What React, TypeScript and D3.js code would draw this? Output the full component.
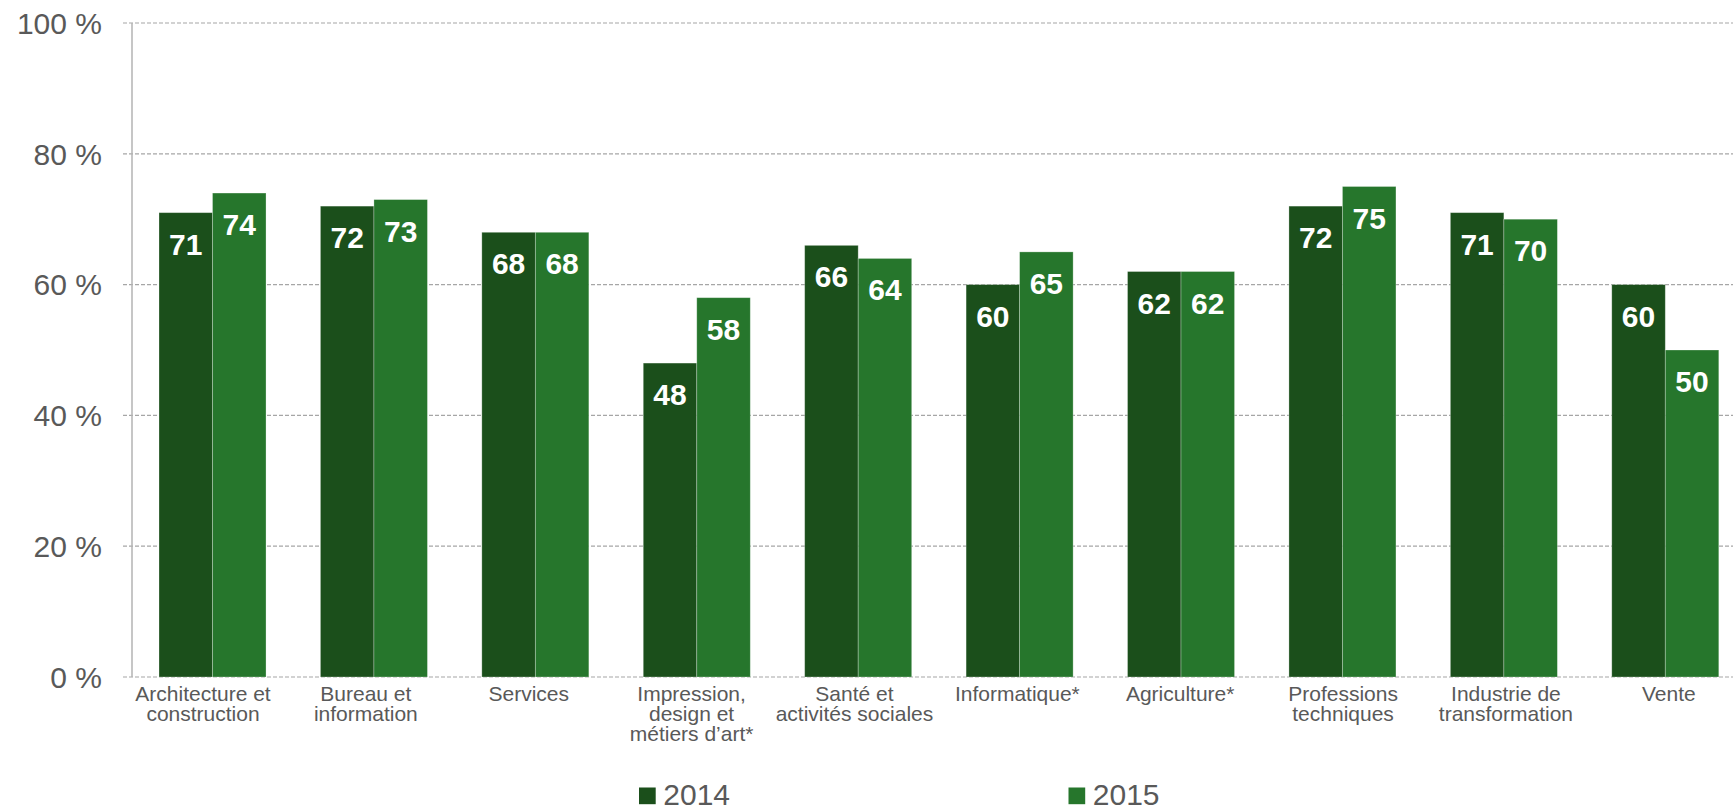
import React from "react";
import * as d3 from "d3";

const categories: string[][] = [
  ["Architecture et", "construction"],
  ["Bureau et", "information"],
  ["Services"],
  ["Impression,", "design et", "métiers d’art*"],
  ["Santé et", "activités sociales"],
  ["Informatique*"],
  ["Agriculture*"],
  ["Professions", "techniques"],
  ["Industrie de", "transformation"],
  ["Vente"],
];
const values2014 = [71, 72, 68, 48, 66, 60, 62, 72, 71, 60];
const values2015 = [74, 73, 68, 58, 64, 65, 62, 75, 70, 50];
const seriesNames = ["2014", "2015"];
const yTicks = [0, 20, 40, 60, 80, 100];

const W = 1733;
const H = 811;
const colors = ["#1b4f1b", "#26762c"];
const FONT = "'Liberation Sans', Arial, Helvetica, sans-serif";

export default function App() {
  const keys = categories.map((c) => c.join(" "));
  const x0 = d3
    .scaleBand<string>()
    .domain(keys)
    .range([131.8, 1746])
    .paddingInner(0.337)
    .paddingOuter(0.1685);
  const xLabel = d3.scalePoint<string>().domain(keys).range([203, 1668.8]);
  const x1 = d3.scaleBand<string>().domain(seriesNames).range([0, x0.bandwidth()]);
  const y = d3.scaleLinear().domain([0, 100]).range([677, 23]);
  const series = [values2014, values2015];

  return (
    <svg
      width={W}
      height={H}
      style={{ position: "absolute", left: 0, top: 0, background: "#fff" }}
      fontFamily={FONT}
    >
      {yTicks.map((t) => (
        <g key={t}>
          <line
            x1={123}
            x2={W}
            y1={y(t)}
            y2={y(t)}
            stroke="#a6a6a6"
            strokeWidth={1.2}
            strokeDasharray="4,2"
          />
          <text
            x={102}
            y={y(t)}
            dy="0.36em"
            textAnchor="end"
            fontSize={30}
            fill="#595959"
          >
            {t} %
          </text>
        </g>
      ))}
      <line x1={132} x2={132} y1={y(100)} y2={y(0)} stroke="#b3b3b3" strokeWidth={1.5} />
      {keys.map((k, i) => (
        <g key={k}>
          <g transform={`translate(${x0(k)},0)`}>
            {series.map((vals, s) => {
              const bx = x1(seriesNames[s])!;
              const bw = x1.bandwidth();
              return (
                <g key={s}>
                  <rect
                    x={bx}
                    y={y(vals[i])}
                    width={bw}
                    height={y(0) - y(vals[i])}
                    fill={colors[s]}
                    stroke="rgba(255,255,255,0.35)"
                    strokeWidth={0.8}
                  />
                  <text
                    x={bx + bw / 2}
                    y={y(vals[i]) + 42}
                    textAnchor="middle"
                    fontSize={30}
                    fontWeight="bold"
                    fill="#fff"
                  >
                    {vals[i]}
                  </text>
                </g>
              );
            })}
          </g>
          {categories[i].map((line, li) => (
            <text
              key={li}
              x={xLabel(k)}
              y={700.5 + li * 20}
              textAnchor="middle"
              fontSize={21}
              fill="#595959"
            >
              {line}
            </text>
          ))}
        </g>
      ))}
      {seriesNames.map((n, s) => {
        const lx = s === 0 ? 639 : 1068.5;
        return (
          <g key={n}>
            <rect x={lx} y={787.5} width={16.7} height={16.7} fill={colors[s]} />
            <text x={lx + 24.3} y={804.5} fontSize={30} fill="#595959">
              {n}
            </text>
          </g>
        );
      })}
    </svg>
  );
}
